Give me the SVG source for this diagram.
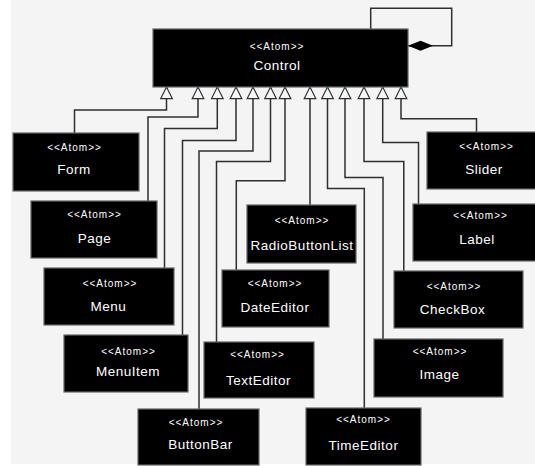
<svg xmlns="http://www.w3.org/2000/svg" width="535" height="466" viewBox="0 0 535 466">
<defs>
<style>
.bg{fill:#f4f4f4}
.box{fill:#000;stroke:#666;stroke-width:1.2}
.st{font-family:"Liberation Sans",Arial,sans-serif;font-size:10px;letter-spacing:1px;fill:#fff;text-anchor:middle}
.nm{font-family:"Liberation Sans",Arial,sans-serif;font-size:13.5px;letter-spacing:0.5px;fill:#fff;text-anchor:middle}
.cn{fill:none;stroke:#2e2e2e;stroke-width:1.5;marker-start:url(#tri)}
.loop{fill:none;stroke:#2e2e2e;stroke-width:1.5;marker-end:url(#dia)}
</style>
<marker id="tri" markerUnits="userSpaceOnUse" markerWidth="14" markerHeight="14" viewBox="-1 -1 15 15" refX="12.5" refY="6.3" orient="auto-start-reverse">
<polygon points="0,0 12.5,6.3 0,12.6" fill="#f2f7fa" stroke="#2e2e2e" stroke-width="1.2"/>
</marker>
<marker id="dia" markerUnits="userSpaceOnUse" markerWidth="27" markerHeight="12" viewBox="0 0 27 12" refX="25" refY="5.5" orient="auto">
<polygon points="0,5.5 12.5,0.5 25,5.5 12.5,10.5" fill="#000"/>
</marker>
</defs>
<rect x="0" y="0" width="535" height="466" fill="#ffffff"/>
<rect class="bg" x="11" y="0" width="524" height="464"/>
<g id="connectors">
<path class="cn" d="M166.5,87 V110 H74.5 V133"/>
<path class="cn" d="M198,87 V117 H148 V201"/>
<path class="cn" d="M217.3,87 V128.5 H164.5 V268"/>
<path class="cn" d="M236,87 V140.5 H182.5 V335"/>
<path class="cn" d="M253,87 V151 H199 V409"/>
<path class="cn" d="M270.5,87 V161.5 H216.5 V342"/>
<path class="cn" d="M285,87 V180.7 H236.3 V270"/>
<path class="cn" d="M310,87 V205"/>
<path class="cn" d="M327.5,87 V188.5 H364.3 V408"/>
<path class="cn" d="M345,87 V177.5 H383 V339"/>
<path class="cn" d="M364,87 V161.5 H403.8 V271"/>
<path class="cn" d="M382.7,87 V142.5 H418.5 V204"/>
<path class="cn" d="M401,87 V118.7 H476.5 V132"/>
<path class="loop" d="M370.7,29 V8.3 H451.7 V45.7 H408"/>
</g>
<g id="control">
<rect class="box" x="153" y="29" width="255" height="58"/>
<text class="st" x="277" y="49.5">&lt;&lt;Atom&gt;&gt;</text>
<text class="nm" x="277" y="69.7">Control</text>
</g>
<g id="form">
<rect class="box" x="13" y="133" width="126" height="58"/>
<text class="st" x="74.5" y="150.8">&lt;&lt;Atom&gt;&gt;</text>
<text class="nm" x="74" y="174">Form</text>
</g>
<g id="page">
<rect class="box" x="31" y="201" width="126" height="57"/>
<text class="st" x="94.5" y="217.8">&lt;&lt;Atom&gt;&gt;</text>
<text class="nm" x="94.5" y="242.5">Page</text>
</g>
<g id="menu">
<rect class="box" x="44" y="268" width="130" height="57"/>
<text class="st" x="110" y="286.8">&lt;&lt;Atom&gt;&gt;</text>
<text class="nm" x="108.5" y="310.7">Menu</text>
</g>
<g id="menuitem">
<rect class="box" x="64" y="335" width="124" height="57"/>
<text class="st" x="128.5" y="354.5">&lt;&lt;Atom&gt;&gt;</text>
<text class="nm" x="128" y="375.7">MenuItem</text>
</g>
<g id="buttonbar">
<rect class="box" x="138" y="409" width="121" height="56"/>
<text class="st" x="196" y="426.2">&lt;&lt;Atom&gt;&gt;</text>
<text class="nm" x="200.5" y="449">ButtonBar</text>
</g>
<g id="texteditor">
<rect class="box" x="204" y="342" width="110" height="56"/>
<text class="st" x="257.5" y="357.5">&lt;&lt;Atom&gt;&gt;</text>
<text class="nm" x="258.5" y="385.4">TextEditor</text>
</g>
<g id="timeeditor">
<rect class="box" x="306" y="408" width="115" height="57"/>
<text class="st" x="363.5" y="422.8">&lt;&lt;Atom&gt;&gt;</text>
<text class="nm" x="363.5" y="450.4">TimeEditor</text>
</g>
<g id="dateeditor">
<rect class="box" x="222" y="270" width="107" height="57"/>
<text class="st" x="275" y="286.8">&lt;&lt;Atom&gt;&gt;</text>
<text class="nm" x="275" y="312.4">DateEditor</text>
</g>
<g id="radiobuttonlist">
<rect class="box" x="247" y="205" width="109" height="58"/>
<text class="st" x="302" y="223.5">&lt;&lt;Atom&gt;&gt;</text>
<text class="nm" x="302" y="249.7">RadioButtonList</text>
</g>
<g id="image">
<rect class="box" x="374" y="339" width="129" height="58"/>
<text class="st" x="440" y="355.2">&lt;&lt;Atom&gt;&gt;</text>
<text class="nm" x="439.5" y="378.5">Image</text>
</g>
<g id="checkbox">
<rect class="box" x="394" y="271" width="129" height="57"/>
<text class="st" x="454" y="290.2">&lt;&lt;Atom&gt;&gt;</text>
<text class="nm" x="452.5" y="313.7">CheckBox</text>
</g>
<g id="label">
<rect class="box" x="413" y="204" width="128" height="57"/>
<text class="st" x="480.5" y="219.2">&lt;&lt;Atom&gt;&gt;</text>
<text class="nm" x="477" y="243.7">Label</text>
</g>
<g id="slider">
<rect class="box" x="427" y="132" width="114" height="57"/>
<text class="st" x="486.5" y="149.5">&lt;&lt;Atom&gt;&gt;</text>
<text class="nm" x="484" y="174">Slider</text>
</g>
</svg>
